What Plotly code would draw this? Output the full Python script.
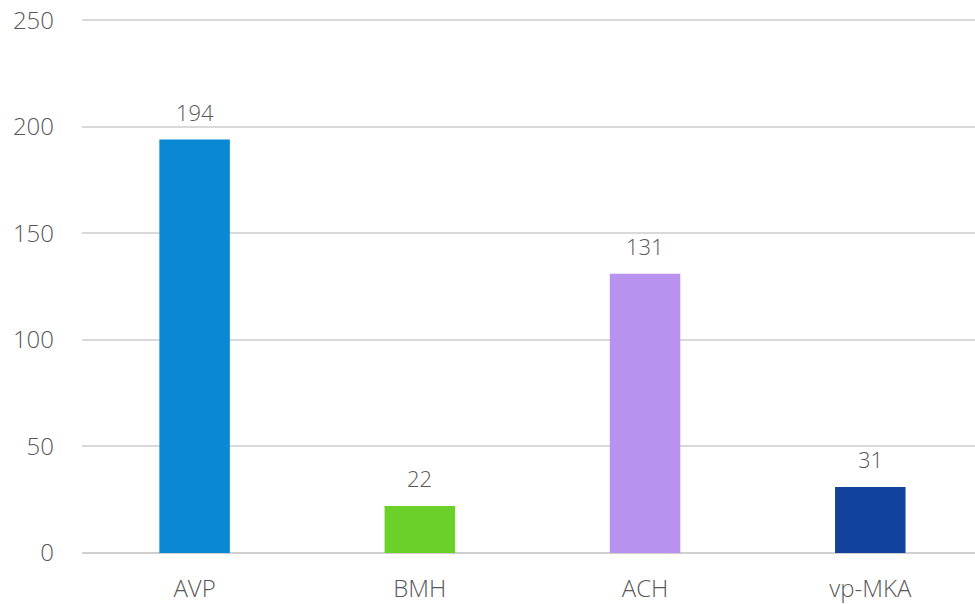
import plotly.graph_objects as go

categories = ["AVP", "BMH", "ACH", "vp-MKA"]
values = [194, 22, 131, 31]
colors = ["#0A88D4", "#6BD12A", "#B793EF", "#12429B"]
y_ticks = [0, 50, 100, 150, 200, 250]

text_color = "#595959"
font_family = "Open Sans, Noto Sans, sans-serif"

fig = go.Figure(
    go.Bar(
        x=categories,
        y=values,
        marker=dict(color=colors, line=dict(width=0)),
        width=0.313,
        hoverinfo="x+y",
    )
)

# value labels above the bars
for cat, val in zip(categories, values):
    fig.add_annotation(
        x=cat, y=val, text=str(val), showarrow=False,
        yanchor="bottom", yshift=11,
        font=dict(size=22, color=text_color, family=font_family, weight=300),
    )

fig.update_layout(
    width=975, height=604,
    margin=dict(l=82, r=0, t=19, b=51),
    paper_bgcolor="white", plot_bgcolor="white",
    showlegend=False,
    font=dict(family=font_family, color=text_color, size=22),
    xaxis=dict(
        range=[-0.5, 3.465],
        showgrid=False, showline=False, zeroline=False,
        ticks="", ticklabelstandoff=19,
        tickfont=dict(size=24, color=text_color, family=font_family, weight=300),
    ),
    yaxis=dict(
        range=[0, 250.6],
        tickvals=y_ticks,
        showgrid=True, gridcolor="#D9D9D9", gridwidth=1.5,
        zeroline=True, zerolinecolor="#CFCFCF", zerolinewidth=1.5,
        showline=False, ticks="", ticklabelstandoff=27,
        tickfont=dict(size=24, color=text_color, family=font_family, weight=300),
    ),
)

fig.write_html("out.html")
